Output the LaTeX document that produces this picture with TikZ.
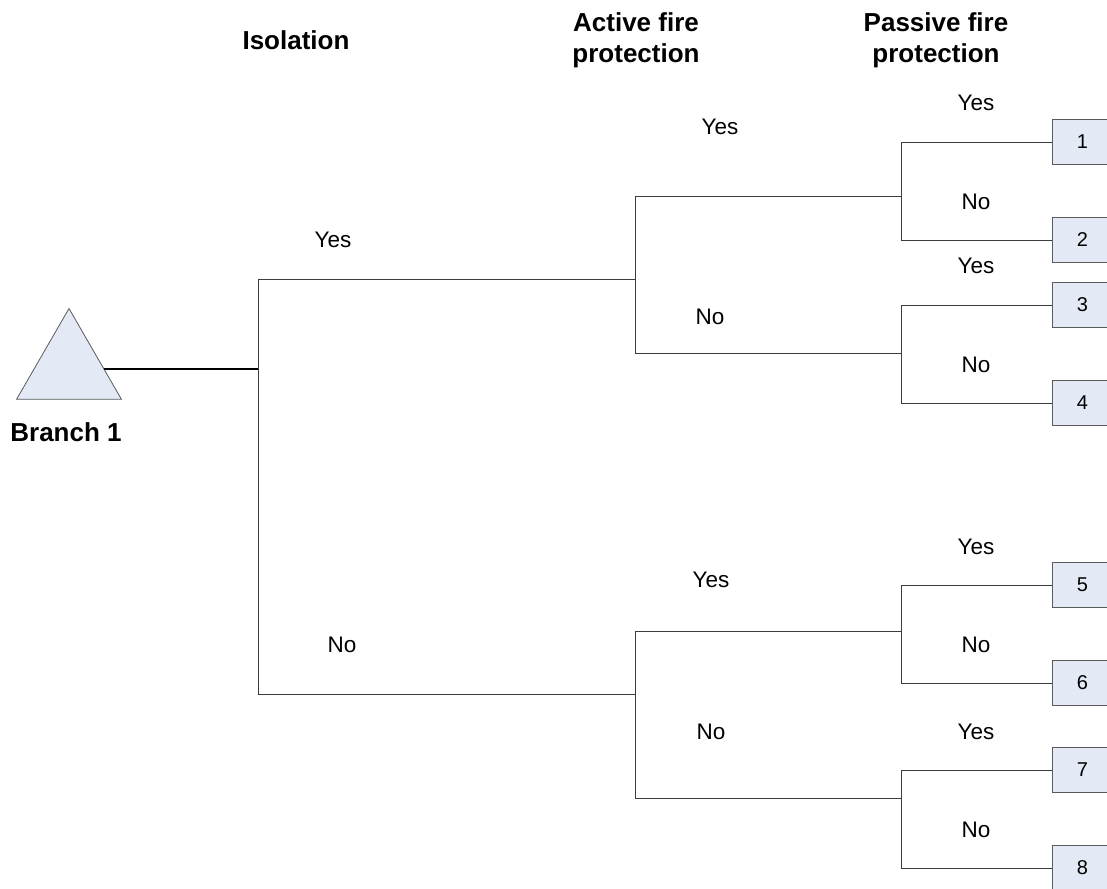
\documentclass[tikz,border=0pt]{standalone}
\usepackage{fontspec}
\setmainfont{Liberation Sans}
\usetikzlibrary{shapes.geometric}
\definecolor{boxfill}{HTML}{E4EAF5}
\definecolor{boxline}{HTML}{5A5A5A}
\definecolor{treeline}{HTML}{3C3C3C}
\tikzset{
  lbl/.style={font=\fontsize{22.5}{26}\selectfont, inner sep=0pt},
  head/.style={font=\fontsize{26}{31}\selectfont\bfseries, align=center, inner sep=0pt},
  outcome/.style={draw=boxline, fill=boxfill, line width=1pt, minimum width=60pt,
    minimum height=45pt, anchor=west, inner sep=0pt, font=\fontsize{20}{24}\selectfont},
  branch/.style={draw=treeline, line width=1pt},
}
\begin{document}
\begin{tikzpicture}[x=1pt,y=-1pt]
\useasboundingbox (0,0) rectangle (1107,888);
\clip (0,0) rectangle (1107,888);

% headers
\node[head] (hIso) at (296,40) {Isolation};
\node[head] (hAct) at (636,40) {Active fire\\protection};
\node[head] (hPas) at (936,40) {Passive fire\\protection};

% start node
\node[regular polygon, regular polygon sides=3, minimum size=121pt, inner sep=0pt, outer sep=0pt,
  draw=boxline, fill=boxfill, line width=0.8pt] (tri) at (69,369) {};
\node[head] (bname) at (66,432) {Branch 1};

% junctions
\coordinate (j0) at (258,369);
\coordinate (j0a) at (258,279);
\coordinate (j0b) at (258,694);
\coordinate (j1) at (635,279);
\coordinate (j2) at (635,694);
\coordinate (j1a) at (635,196);
\coordinate (j1b) at (635,353);
\coordinate (j2a) at (635,631);
\coordinate (j2b) at (635,798);
\coordinate (k1) at (901,196);
\coordinate (k2) at (901,353);
\coordinate (k3) at (901,631);
\coordinate (k4) at (901,798);
\coordinate (k1a) at (901,142);
\coordinate (k1b) at (901,240);
\coordinate (k2a) at (901,305);
\coordinate (k2b) at (901,403);
\coordinate (k3a) at (901,585);
\coordinate (k3b) at (901,683);
\coordinate (k4a) at (901,770);
\coordinate (k4b) at (901,868);

% outcome boxes
\node[outcome] (o1) at (1052,142) {1\hspace{3pt}};
\node[outcome] (o2) at (1052,240) {2\hspace{3pt}};
\node[outcome] (o3) at (1052,305) {3\hspace{3pt}};
\node[outcome] (o4) at (1052,403) {4\hspace{3pt}};
\node[outcome] (o5) at (1052,585) {5\hspace{3pt}};
\node[outcome] (o6) at (1052,683) {6\hspace{3pt}};
\node[outcome] (o7) at (1052,770) {7\hspace{3pt}};
\node[outcome] (o8) at (1052,868) {8\hspace{3pt}};

% stem
\draw[black, line width=2pt] (tri) -- (j0);

% isolation level
\draw[branch] (j0a) -- (j0b);
\draw[branch] (j0a) -- (j1);
\draw[branch] (j0b) -- (j2);

% active protection level
\draw[branch] (j1a) -- (j1b);
\draw[branch] (j2a) -- (j2b);
\draw[branch] (j1a) -- (k1);
\draw[branch] (j1b) -- (k2);
\draw[branch] (j2a) -- (k3);
\draw[branch] (j2b) -- (k4);

% passive protection level
\foreach \k in {1,2,3,4} {
  \draw[branch] (k\k a) -- (k\k b);
}
\draw[branch] (k1a) -- (o1);
\draw[branch] (k1b) -- (o2);
\draw[branch] (k2a) -- (o3);
\draw[branch] (k2b) -- (o4);
\draw[branch] (k3a) -- (o5);
\draw[branch] (k3b) -- (o6);
\draw[branch] (k4a) -- (o7);
\draw[branch] (k4b) -- (o8);

% branch labels
\node[lbl] (l1) at (333,240) {Yes};
\node[lbl] (l2) at (342,645) {No};
\node[lbl] (l3) at (720,127) {Yes};
\node[lbl] (l4) at (710,317) {No};
\node[lbl] (l5) at (711,580) {Yes};
\node[lbl] (l6) at (711,732) {No};
\node[lbl] (l7) at (976,103) {Yes};
\node[lbl] (l8) at (976,202) {No};
\node[lbl] (l9) at (976,266) {Yes};
\node[lbl] (l10) at (976,365) {No};
\node[lbl] (l11) at (976,547) {Yes};
\node[lbl] (l12) at (976,645) {No};
\node[lbl] (l13) at (976,732) {Yes};
\node[lbl] (l14) at (976,830) {No};
\end{tikzpicture}
\end{document}
